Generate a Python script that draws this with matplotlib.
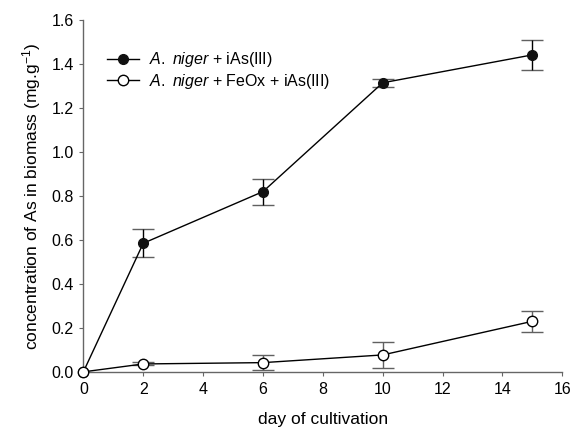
import matplotlib.pyplot as plt
from matplotlib.lines import Line2D

plt.rcParams['font.family'] = ['Liberation Sans', 'DejaVu Sans']
plt.rcParams['mathtext.fontset'] = 'custom'
plt.rcParams['mathtext.rm'] = 'Liberation Sans'
plt.rcParams['mathtext.it'] = 'Liberation Sans:italic'

# data
days = [0, 2, 6, 10, 15]
niger = [0.0, 0.585, 0.82, 1.315, 1.442]
niger_err = [0.0, 0.063, 0.059, 0.017, 0.068]
niger_feox = [0.0, 0.036, 0.042, 0.077, 0.23]
niger_feox_err = [0.0, 0.007, 0.034, 0.06, 0.048]

fig = plt.figure(figsize=(5.83, 4.38), dpi=100)
ax = fig.add_axes([0.143, 0.151, 0.8215, 0.803])

axis_col = '#666666'
cap = 0.37

ax.errorbar(days, niger, yerr=niger_err, color='black', marker='o', ms=7,
            mfc='#111111', mec='#111111', lw=1, elinewidth=1, ecolor='black',
            capsize=0, zorder=3, clip_on=False)
ax.errorbar(days, niger_feox, yerr=niger_feox_err, color='black', marker='o', ms=7.5,
            mfc='white', mec='black', mew=1, lw=1, elinewidth=1, ecolor='#606060',
            capsize=0, zorder=3, clip_on=False)

# caps drawn in grey like the reference
for x, y, e in zip(days[1:], niger[1:], niger_err[1:]):
    ax.hlines([y - e, y + e], x - cap, x + cap, color='#606060', lw=1, zorder=2)
for x, y, e in zip(days[1:], niger_feox[1:], niger_feox_err[1:]):
    ax.hlines([y - e, y + e], x - cap, x + cap, color='#606060', lw=1, zorder=2)

ax.set_xlim(0, 16)
ax.set_ylim(0, 1.6)
ax.set_xticks(range(0, 17, 2))
ax.set_yticks([0, 0.2, 0.4, 0.6, 0.8, 1.0, 1.2, 1.4, 1.6])
ax.set_yticklabels(['0.0', '0.2', '0.4', '0.6', '0.8', '1.0', '1.2', '1.4', '1.6'])

for s in ['top', 'right']:
    ax.spines[s].set_visible(False)
for s in ['left', 'bottom']:
    ax.spines[s].set_color(axis_col)
    ax.spines[s].set_linewidth(1)

ax.tick_params(direction='out', length=3, color=axis_col, labelsize=11.5, pad=4)

ax.set_xlabel('day of cultivation', fontsize=12.5, labelpad=11)
ax.set_ylabel('concentration of As in biomass (mg.g$^{-1}$)', fontsize=12.5, labelpad=6)

handles = [
    Line2D([], [], color='black', lw=1, marker='o', ms=7, mfc='#111111', mec='#111111'),
    Line2D([], [], color='black', lw=1, marker='o', ms=7.5, mfc='white', mec='black'),
]
labels = ['$\\it{A.}$ $\\it{niger}$ + iAs(III)', '$\\it{A.}$ $\\it{niger}$ + FeOx + iAs(III)']
ax.legend(handles, labels, loc='upper left', bbox_to_anchor=(0.02, 0.955), frameon=False,
          fontsize=11.5, handlelength=2.0, handletextpad=0.6, labelspacing=0.15)

plt.savefig('out.png', dpi=100)
